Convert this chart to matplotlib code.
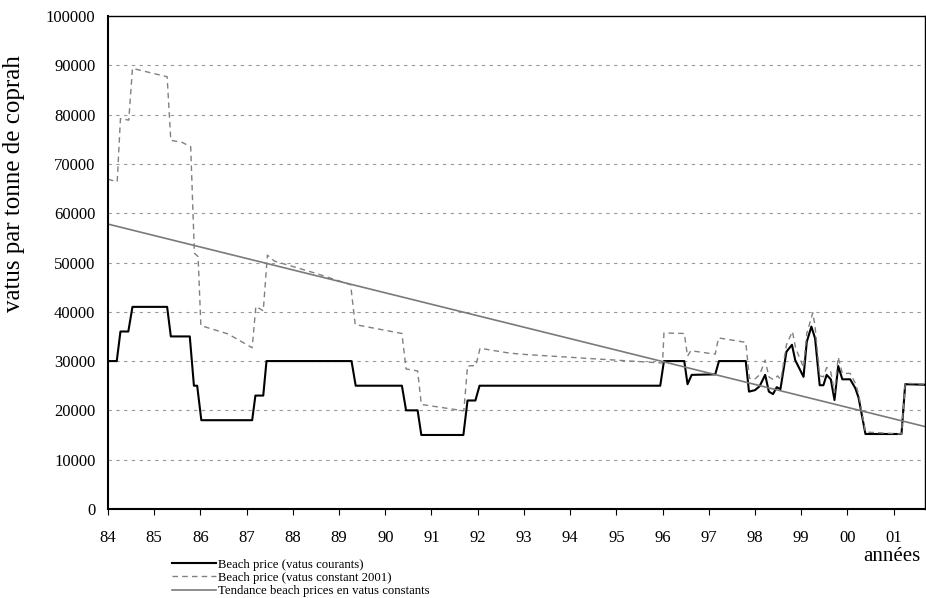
import numpy as np
import matplotlib
matplotlib.use("Agg")
import matplotlib.pyplot as plt

plt.rcParams['font.family'] = ['Liberation Serif', 'DejaVu Serif']

# prix courants (vatus par tonne)
x_cour = [84.0, 84.19, 84.27, 84.44, 84.53, 85.28, 85.36, 85.77, 85.86, 85.93, 86.02,
          87.12, 87.19, 87.36, 87.43, 89.27, 89.36, 90.36, 90.45, 90.7, 90.78,
          91.69, 91.78, 91.95, 92.04, 95.95, 96.03, 96.47, 96.54, 96.63, 97.14,
          97.22, 97.8, 97.87, 98.0, 98.1, 98.22, 98.3, 98.39, 98.47, 98.55,
          98.68, 98.8, 98.87, 99.05, 99.12, 99.22, 99.3, 99.4, 99.48, 99.55,
          99.64, 99.72, 99.8, 99.89, 100.06, 100.17, 100.24, 100.39, 101.17, 101.25, 101.68]
y_cour = [30000, 30000, 36000, 36000, 41000, 41000, 35000, 35000, 25000, 25000, 18000,
          18000, 23000, 23000, 30000, 30000, 25000, 25000, 20000, 20000, 15000,
          15000, 22000, 22000, 25000, 25000, 30000, 30000, 25300, 27200, 27300,
          30000, 30000, 23800, 24100, 24900, 27200, 23800, 23300, 24700, 24300,
          31900, 33300, 30200, 26800, 33900, 37000, 34600, 25100, 25100, 27200,
          26300, 22100, 29000, 26300, 26300, 24500, 22600, 15200, 15200, 25300, 25200]

# prix constants 2001
x_const = [84.0, 84.2, 84.27, 84.45, 84.53, 85.28, 85.36, 85.6, 85.79, 85.87, 85.95, 86.01,
           86.6, 87.12, 87.2, 87.36, 87.45, 87.6, 88.5, 89.25, 89.35, 90.36, 90.45,
           90.7, 90.78, 91.7, 91.78, 91.96, 92.05, 92.63, 92.92, 96.0, 96.03,
           96.47, 96.54, 96.61, 97.14, 97.21, 97.8, 97.88, 97.99, 98.1, 98.22,
           98.3, 98.4, 98.49, 98.56, 98.68, 98.81, 98.88, 99.05, 99.12, 99.25,
           99.3, 99.4, 99.48, 99.55, 99.64, 99.72, 99.8, 99.89, 100.06, 100.17,
           100.24, 100.39, 101.17, 101.25, 101.68]
y_const = [66900, 66400, 79200, 78900, 89400, 87700, 74800, 74400, 73500, 51900, 51200, 37200,
           35500, 32700, 41100, 40200, 51500, 50300, 47800, 45500, 37400, 35600, 28400,
           28000, 21200, 19900, 29000, 29100, 32600, 31700, 31400, 29600, 35700,
           35600, 31000, 32100, 31400, 34700, 33800, 26500, 26300, 27200, 30200,
           26800, 26200, 27000, 26200, 33300, 36000, 32600, 28700, 35600, 39800,
           37000, 27000, 26800, 28700, 27800, 23600, 30800, 27500, 27500, 25500,
           23400, 15600, 15200, 25500, 25300]

# tendance
x_tend = [84.0, 101.68]
y_tend = [57800, 16700]

tick_pos = list(range(84, 102))
tick_lab = ['84', '85', '86', '87', '88', '89', '90', '91', '92', '93', '94', '95',
            '96', '97', '98', '99', '00', '01']

fig = plt.figure(figsize=(9.26, 5.98), dpi=100)
ax = fig.add_axes([0.1166, 0.149, 0.8824, 0.824])

ax.plot(x_cour, y_cour, color='black', lw=1.5, label='Beach price (vatus courants)')
ax.plot(x_const, y_const, color='#808080', lw=1.0, ls=(0, (4, 3)),
        label='Beach price (vatus constant 2001)')
ax.plot(x_tend, y_tend, color='#7a7a7a', lw=1.2,
        label='Tendance beach prices en vatus constants')

ax.set_xlim(84, 101.68)
ax.set_ylim(0, 100000)
ax.set_yticks(range(0, 100001, 10000))
ax.set_xticks(tick_pos)
ax.set_xticklabels(tick_lab)
for v in range(10000, 100000, 10000):
    ax.axhline(v, color='#999999', lw=0.8, ls=(0, (3, 4)), zorder=0)

ax.tick_params(axis='x', direction='out', length=4, pad=11, labelsize=12)
ax.tick_params(axis='y', length=0, pad=9, labelsize=12)
for s in ax.spines.values():
    s.set_linewidth(1.0)
ax.spines['left'].set_linewidth(1.5)
ax.spines['bottom'].set_linewidth(1.5)

ax.set_ylabel('vatus par tonne de coprah', fontsize=18)
ax.yaxis.set_label_coords(-0.102, 0.661)
fig.text(0.994, 0.07, 'années', fontsize=15, ha='right', va='center')

fig.legend(loc='upper left', bbox_to_anchor=(0.186, 0.066), frameon=False,
           fontsize=9.2, handlelength=3.4, handletextpad=0.2, labelspacing=0.1,
           borderaxespad=0, borderpad=0)

fig.savefig('out.png', dpi=100)
